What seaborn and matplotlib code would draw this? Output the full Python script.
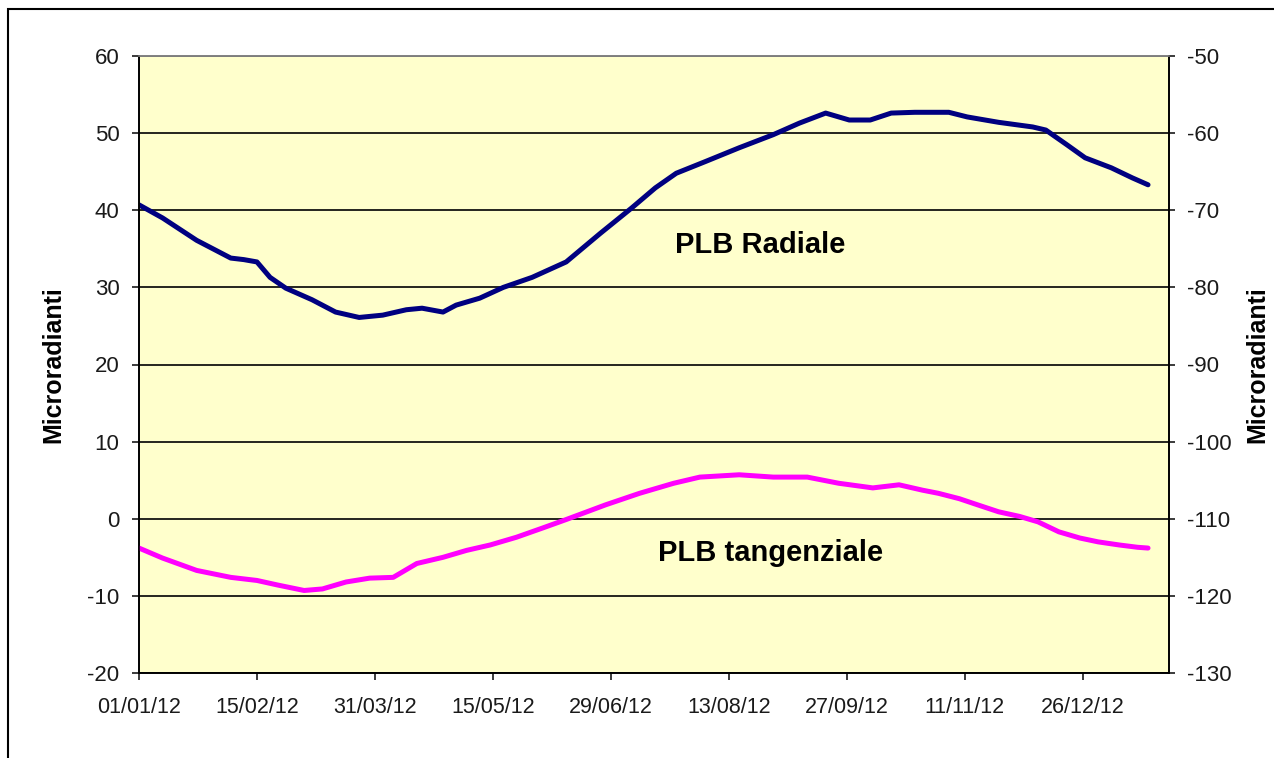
import numpy as np
import pandas as pd
import matplotlib
matplotlib.use("Agg")
import matplotlib.pyplot as plt
import matplotlib.dates as mdates
from matplotlib.patches import Rectangle
import seaborn as sns

# days from 01/01/2012, values in microradians
radial_days = [0, 9, 22, 35, 40, 45, 50, 56, 66, 75, 84, 93, 102, 108, 116, 121, 130, 139, 150, 163,
               176, 188, 197, 205, 216, 229, 242, 252, 262, 271, 279, 287, 296, 309, 316, 328, 341,
               346, 354, 361, 371, 379, 385]
radial_vals = [40.7, 39.0, 36.1, 33.8, 33.6, 33.3, 31.3, 29.9, 28.4, 26.8, 26.1, 26.4, 27.1, 27.3, 26.8,
               27.7, 28.6, 30.0, 31.3, 33.3, 37.0, 40.3, 42.9, 44.8, 46.3, 48.1, 49.8, 51.3, 52.6,
               51.7, 51.7, 52.6, 52.7, 52.7, 52.1, 51.4, 50.8, 50.4, 48.5, 46.8, 45.5, 44.2, 43.3]

tang_days = [0, 9, 22, 35, 45, 53, 63, 70, 79, 88, 97, 106, 116, 125, 134, 144, 154, 163, 178, 191,
             204, 214, 229, 242, 255, 267, 280, 290, 299, 305, 313, 320, 328, 336, 343, 351, 359,
             366, 374, 381, 385]
tang_vals = [-113.8, -115.1, -116.7, -117.6, -118.0, -118.6, -119.3, -119.1, -118.2, -117.7, -117.6,
             -115.8, -115.0, -114.1, -113.4, -112.4, -111.2, -110.1, -108.2, -106.7, -105.4, -104.6,
             -104.3, -104.6, -104.6, -105.4, -106.0, -105.6, -106.3, -106.7, -107.4, -108.2, -109.1,
             -109.7, -110.4, -111.7, -112.5, -113.0, -113.4, -113.7, -113.8]

left_ticks = [-20, -10, 0, 10, 20, 30, 40, 50, 60]
right_ticks = [-130, -120, -110, -100, -90, -80, -70, -60, -50]

start = pd.Timestamp("2012-01-01")
radial = pd.DataFrame({"data": start + pd.to_timedelta(radial_days, unit="D"), "val": radial_vals})
tang = pd.DataFrame({"data": start + pd.to_timedelta(tang_days, unit="D"), "val": tang_vals})

sns.set_theme(style="white")
plt.rcParams['font.family'] = ['Liberation Sans', 'DejaVu Sans']
plt.rcParams['axes.unicode_minus'] = False

fig = plt.figure(figsize=(12.74, 7.58), dpi=100)
ax = fig.add_axes([139/1274, 1-673/758, (1169-139)/1274, (673-56)/758])
ax.set_facecolor("#FFFFCC")
ax.set_axisbelow(True)

sns.lineplot(data=radial, x="data", y="val", ax=ax, color="#000080", linewidth=3.6)
ax2 = ax.twinx()
sns.lineplot(data=tang, x="data", y="val", ax=ax2, color="#FF00FF", linewidth=3.6)

ax.set_ylim(-20, 60)
ax2.set_ylim(-130, -50)
ax.set_yticks(left_ticks)
ax2.set_yticks(right_ticks)
ax.set_yticklabels([str(t) for t in left_ticks])
ax2.set_yticklabels([str(t) for t in right_ticks])

ax.set_xlim(start, start + pd.Timedelta(days=393))
xt = pd.date_range(start, periods=9, freq="45D")
ax.set_xticks(xt)
ax.xaxis.set_major_formatter(mdates.DateFormatter("%d/%m/%y"))

ax.yaxis.grid(True, color="black", linewidth=1.2)
ax.xaxis.grid(False)

for a in (ax, ax2):
    for s in a.spines.values():
        s.set_color("black")
        s.set_linewidth(1.2)
    a.spines["top"].set_color("#808080")
    a.set_xlabel("")

ax.tick_params(axis="y", direction="out", length=5, width=1.2, pad=9, labelsize=16, colors="#1a1a1a",
               left=True)
ax.tick_params(axis="x", direction="out", length=5, width=1.2, pad=12, labelsize=15.5, colors="#1a1a1a",
               bottom=True)
ax2.tick_params(axis="y", direction="out", length=4, width=1.2, pad=9, labelsize=16, colors="#1a1a1a",
                right=True)

ax.set_ylabel("Microradianti", fontsize=18, fontweight="bold", color="black", labelpad=16)
ax2.set_ylabel("Microradianti", fontsize=18, fontweight="bold", color="black", labelpad=10, rotation=90)

ax.text(0.603, 0.694, "PLB Radiale", transform=ax.transAxes, fontsize=21, fontweight="bold",
        ha="center", va="center", color="black")
ax.text(0.613, 0.194, "PLB tangenziale", transform=ax.transAxes, fontsize=21, fontweight="bold",
        ha="center", va="center", color="black")

# outer chart border (cut off at right and bottom like the screenshot)
fig.patches.append(Rectangle((8/1274, -0.05), 1.1, 1-9/758+0.05, transform=fig.transFigure,
                             fill=False, edgecolor="black", linewidth=1.5))

fig.savefig("out.png", dpi=100, facecolor="white")
